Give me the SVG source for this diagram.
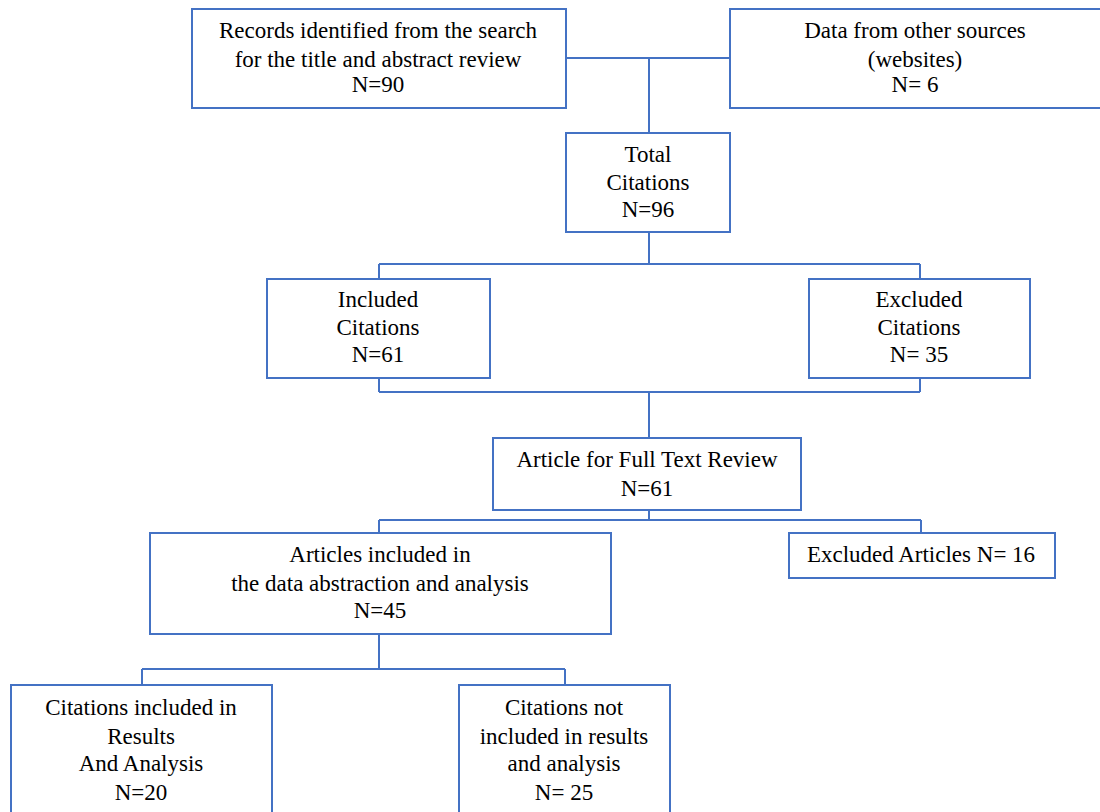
<svg xmlns="http://www.w3.org/2000/svg" width="1100" height="812" viewBox="0 0 1100 812">
<style>
.box{fill:#fff;stroke:#4472C4;stroke-width:2}
.ln{fill:none;stroke:#4472C4;stroke-width:2}
text{font-family:"Liberation Serif","Times New Roman",serif;font-size:23px;fill:#000;text-anchor:middle}
</style>
<rect width="1100" height="812" fill="#fff"/>
<g id="connectors">
<path class="ln" d="M566 58H730M649 58V133"/>
<path class="ln" d="M649 232V264M379 264H920M379 264V279M920 264V279"/>
<path class="ln" d="M379 378V392M920 378V392M379 392H920M649 392V438"/>
<path class="ln" d="M649 510V520M379 520H921M379 520V533M921 520V533"/>
<path class="ln" d="M379 634V669M142 669H565M142 669V685M565 669V685"/>
</g>
<g id="records">
<rect class="box" x="192" y="9" width="374" height="99"/>
<text x="378" y="38">Records identified from the search</text>
<text x="378" y="67">for the title and abstract review</text>
<text x="378" y="92">N=90</text>
</g>
<g id="other">
<rect class="box" x="730" y="9" width="375" height="99"/>
<text x="915" y="38">Data from other sources</text>
<text x="915" y="67">(websites)</text>
<text x="915" y="92">N= 6</text>
</g>
<g id="total">
<rect class="box" x="566" y="133" width="164" height="99"/>
<text x="648" y="162">Total</text>
<text x="648" y="190">Citations</text>
<text x="648" y="217">N=96</text>
</g>
<g id="included">
<rect class="box" x="267" y="279" width="223" height="99"/>
<text x="378" y="307">Included</text>
<text x="378" y="335">Citations</text>
<text x="378" y="362">N=61</text>
</g>
<g id="excluded">
<rect class="box" x="809" y="279" width="221" height="99"/>
<text x="919" y="307">Excluded</text>
<text x="919" y="335">Citations</text>
<text x="919" y="362">N= 35</text>
</g>
<g id="fulltext">
<rect class="box" x="493" y="438" width="308" height="72"/>
<text x="647" y="467">Article for Full Text Review</text>
<text x="647" y="496">N=61</text>
</g>
<g id="abstraction">
<rect class="box" x="150" y="533" width="461" height="101"/>
<text x="380" y="562">Articles included in</text>
<text x="380" y="591">the data abstraction and analysis</text>
<text x="380" y="618">N=45</text>
</g>
<g id="excludedArticles">
<rect class="box" x="789" y="533" width="266" height="45"/>
<text x="921" y="562">Excluded Articles N= 16</text>
</g>
<g id="resultsIncluded">
<rect class="box" x="11" y="685" width="261" height="135"/>
<text x="141" y="715">Citations included in</text>
<text x="141" y="744">Results</text>
<text x="141" y="771">And Analysis</text>
<text x="141" y="800">N=20</text>
</g>
<g id="resultsNot">
<rect class="box" x="459" y="685" width="211" height="135"/>
<text x="564" y="715">Citations not</text>
<text x="564" y="744">included in results</text>
<text x="564" y="771">and analysis</text>
<text x="564" y="800">N= 25</text>
</g>
</svg>
